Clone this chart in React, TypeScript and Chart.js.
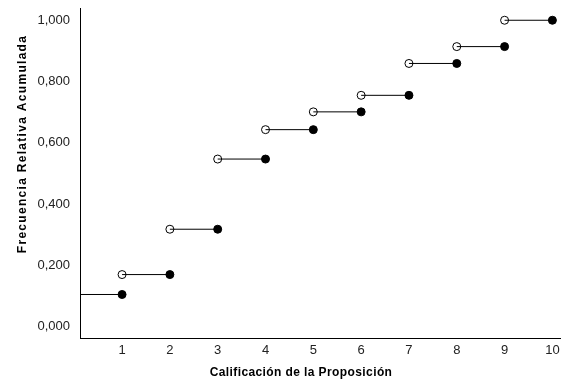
import React, { useEffect, useRef } from "react";
import { Chart, registerables } from "chart.js";

Chart.register(...registerables);

const categories = [1, 2, 3, 4, 5, 6, 7, 8, 9, 10];
const cumulative = [0.105, 0.17, 0.318, 0.547, 0.643, 0.701, 0.755, 0.859, 0.914, 1.0];
const yTicks = [0, 0.2, 0.4, 0.6, 0.8, 1.0];
const xTitle = "Calificación de la Proposición";
const yTitle = "Frecuencia Relativa Acumulada";

const X_MIN = 0.12;
const X_MAX = 10.18;
const Y_MIN = -0.037;
const Y_MAX = 1.04;

const fmt = (v: number) => v.toFixed(3).replace(".", ",");

export default function App() {
  const ref = useRef<HTMLCanvasElement | null>(null);

  useEffect(() => {
    document.body.style.margin = "0";
    const canvas = ref.current!;
    const lineData: any[] = [];
    categories.forEach((c, i) => {
      const start = i === 0 ? X_MIN : categories[i - 1];
      lineData.push({ x: start, y: cumulative[i] });
      lineData.push({ x: c, y: cumulative[i] });
      lineData.push({ x: c + 0.01, y: null });
    });
    const openPts = categories.slice(1).map((c, i) => ({ x: categories[i], y: cumulative[i + 1] }));
    const filledPts = categories.map((c, i) => ({ x: c, y: cumulative[i] }));

    const titlePlugin = {
      id: "axisTitles",
      afterDraw(chart: any) {
        const ctx = chart.ctx;
        ctx.save();
        ctx.fillStyle = "#000";
        ctx.font = "bold 12px 'Liberation Sans', Arial, sans-serif";
        ctx.textAlign = "center";
        ctx.textBaseline = "middle";
        (ctx as any).letterSpacing = "0.4px";
        ctx.fillText(xTitle, 301, 373);
        (ctx as any).letterSpacing = "1.3px";
        ctx.translate(23, 144);
        ctx.rotate(-Math.PI / 2);
        ctx.fillText(yTitle, 0, 0);
        ctx.restore();
      },
    };

    const chart = new Chart(canvas, {
      type: "scatter",
      data: {
        datasets: [
          {
            type: "line",
            data: lineData,
            borderColor: "#000",
            borderWidth: 1,
            pointRadius: 0,
            spanGaps: false,
            fill: false,
          } as any,
          {
            data: openPts,
            pointRadius: 4,
            pointBackgroundColor: "#fff",
            pointBorderColor: "#000",
            pointBorderWidth: 1,
          },
          {
            data: filledPts,
            pointRadius: 4,
            pointBackgroundColor: "#000",
            pointBorderColor: "#000",
            pointBorderWidth: 1,
          },
        ],
      },
      options: {
        animation: false,
        responsive: false,
        layout: { autoPadding: false, padding: { top: 8, right: 0, left: 0, bottom: 0 } },
        plugins: { legend: { display: false }, tooltip: { enabled: false }, title: { display: false } },
        scales: {
          x: {
            type: "linear",
            min: X_MIN,
            max: X_MAX,
            grid: { display: false, drawTicks: false },
            border: { display: true, color: "#000", width: 1 },
            ticks: {
              color: "#222",
              font: { family: "'Liberation Sans', Arial, sans-serif", size: 13 },
              padding: 5,
              maxRotation: 0,
              autoSkip: false,
              callback: (v: any) => String(v),
            },
            afterBuildTicks: (s: any) => {
              s.ticks = categories.map((c) => ({ value: c }));
            },
            afterFit: (s: any) => {
              s.height = 45;
              s.paddingLeft = 0;
              s.paddingRight = 0;
            },
          },
          y: {
            type: "linear",
            min: Y_MIN,
            max: Y_MAX,
            grid: { display: false, drawTicks: false },
            border: { display: true, color: "#000", width: 1 },
            ticks: {
              color: "#222",
              font: { family: "'Liberation Sans', Arial, sans-serif", size: 13 },
              padding: 10,
              autoSkip: false,
              callback: (v: any) => fmt(Number(v)),
            },
            afterBuildTicks: (s: any) => {
              s.ticks = yTicks.map((v) => ({ value: v }));
            },
            afterFit: (s: any) => {
              s.width = 80;
              s.paddingTop = 0;
              s.paddingBottom = 0;
            },
          },
        },
      },
      plugins: [titlePlugin],
    });
    return () => chart.destroy();
  }, []);

  return <canvas ref={ref} width={561} height={383} style={{ display: "block" }} />;
}
